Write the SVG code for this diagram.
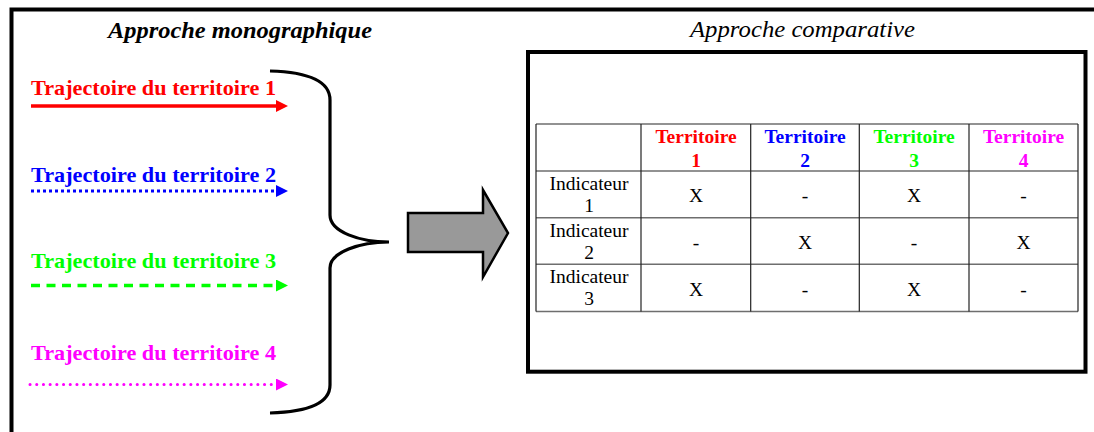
<svg xmlns="http://www.w3.org/2000/svg" width="1094" height="432" viewBox="0 0 1094 432">
<style>
text{font-family:"Liberation Serif","DejaVu Serif",serif}
.title{font-size:23px;font-weight:bold;font-style:italic;fill:#000}
.lab{font-size:22px;font-weight:bold}
.hd{font-size:19.5px;font-weight:bold;text-anchor:middle}
.cell{font-size:19.5px;fill:#000;text-anchor:middle}
.hl{stroke:#6e6e6e;stroke-width:1.4;fill:none}
.vl{stroke:#222;stroke-width:1.2;fill:none}
.traj{fill:none}
</style>
<defs>
<marker id="hr" markerUnits="userSpaceOnUse" markerWidth="12" markerHeight="12" refX="0" refY="6" orient="auto"><path d="M0,0 L12,6 L0,12 z" fill="#ff0000"/></marker>
<marker id="hb" markerUnits="userSpaceOnUse" markerWidth="12" markerHeight="12" refX="0" refY="6" orient="auto"><path d="M0,0 L12,6 L0,12 z" fill="#0000ff"/></marker>
<marker id="hg" markerUnits="userSpaceOnUse" markerWidth="12" markerHeight="12" refX="0" refY="6" orient="auto"><path d="M0,0 L12,6 L0,12 z" fill="#00ff00"/></marker>
<marker id="hm" markerUnits="userSpaceOnUse" markerWidth="12" markerHeight="12" refX="0" refY="6" orient="auto"><path d="M0,0 L12,6 L0,12 z" fill="#ff00ff"/></marker>
</defs>
<rect width="1094" height="432" fill="#fff"/>
<path id="frame" d="M11.5,432 V9.5 H1094" fill="none" stroke="#000" stroke-width="4"/>

<text class="title" x="108" y="38" textLength="264" lengthAdjust="spacingAndGlyphs">Approche monographique</text>
<text class="title" x="690" y="37" textLength="225" lengthAdjust="spacingAndGlyphs" style="font-weight:normal">Approche comparative</text>

<g id="traj1"><text class="lab" x="31" y="95" fill="#ff0000" textLength="245" lengthAdjust="spacingAndGlyphs">Trajectoire du territoire 1</text></g>
<g id="traj2"><text class="lab" x="31" y="182" fill="#0000ff" textLength="245" lengthAdjust="spacingAndGlyphs">Trajectoire du territoire 2</text></g>
<g id="traj3"><text class="lab" x="31" y="268" fill="#00ff00" textLength="245" lengthAdjust="spacingAndGlyphs">Trajectoire du territoire 3</text></g>
<g id="traj4"><text class="lab" x="31" y="360" fill="#ff00ff" textLength="245" lengthAdjust="spacingAndGlyphs">Trajectoire du territoire 4</text></g>

<g id="connectors">
<line class="traj" x1="31" y1="106" x2="276" y2="106" stroke="#ff0000" stroke-width="3.5" marker-end="url(#hr)"/>
<line class="traj" x1="31" y1="191" x2="276" y2="191" stroke="#0000ff" stroke-width="3" stroke-dasharray="3 3" marker-end="url(#hb)"/>
<line class="traj" x1="31" y1="285.5" x2="276" y2="285.5" stroke="#00ff00" stroke-width="3.5" stroke-dasharray="9 6.5" marker-end="url(#hg)"/>
<line class="traj" x1="30" y1="384.5" x2="276" y2="384.5" stroke="#ff00ff" stroke-width="3" stroke-linecap="round" stroke-dasharray="0.1 6.6" marker-end="url(#hm)"/>
</g>

<g id="brace">
<path d="M270,71 C305,72 330,80 330,100 L330,215 C330,232 360,242 389,242 C360,242 330,252 330,268 L330,385 C330,405 305,412 270,413" fill="none" stroke="#000" stroke-width="3.2"/>
</g>

<g id="bigarrow">
<polygon points="408,213 483,213 483,190 508,233 483,277 483,252 408,252" fill="#999999" stroke="#000" stroke-width="2.5" stroke-linejoin="miter"/>
</g>

<g id="comparative">
<rect x="528" y="52" width="557.5" height="319.7" fill="none" stroke="#000" stroke-width="4"/>
<g id="table">
<line class="hl" x1="536" y1="124" x2="1078" y2="124"/>
<line class="hl" x1="536" y1="171" x2="1078" y2="171"/>
<line class="hl" x1="536" y1="217.7" x2="1078" y2="217.7"/>
<line class="hl" x1="536" y1="264.3" x2="1078" y2="264.3"/>
<line class="hl" x1="536" y1="311.5" x2="1078" y2="311.5"/>
<line class="vl" x1="536" y1="124" x2="536" y2="311.5"/>
<line class="vl" x1="641" y1="124" x2="641" y2="311.5"/>
<line class="vl" x1="750.7" y1="124" x2="750.7" y2="311.5"/>
<line class="vl" x1="859.3" y1="124" x2="859.3" y2="311.5"/>
<line class="vl" x1="969" y1="124" x2="969" y2="311.5"/>
<line class="vl" x1="1078" y1="124" x2="1078" y2="311.5"/>

<text class="hd" x="696" y="143" fill="#ff0000">Territoire</text>
<text class="hd" x="696" y="167" fill="#ff0000">1</text>
<text class="hd" x="805" y="143" fill="#0000ff">Territoire</text>
<text class="hd" x="805" y="167" fill="#0000ff">2</text>
<text class="hd" x="914" y="143" fill="#00ff00">Territoire</text>
<text class="hd" x="914" y="167" fill="#00ff00">3</text>
<text class="hd" x="1023.5" y="143" fill="#ff00ff">Territoire</text>
<text class="hd" x="1023.5" y="167" fill="#ff00ff">4</text>

<text class="cell" x="589" y="190">Indicateur</text>
<text class="cell" x="589" y="212">1</text>
<text class="cell" x="589" y="236.5">Indicateur</text>
<text class="cell" x="589" y="258.5">2</text>
<text class="cell" x="589" y="283">Indicateur</text>
<text class="cell" x="589" y="305">3</text>

<text class="cell" x="696" y="202">X</text>
<text class="cell" x="805" y="202">-</text>
<text class="cell" x="914" y="202">X</text>
<text class="cell" x="1023.5" y="202">-</text>
<text class="cell" x="696" y="248.5">-</text>
<text class="cell" x="805" y="248.5">X</text>
<text class="cell" x="914" y="248.5">-</text>
<text class="cell" x="1023.5" y="248.5">X</text>
<text class="cell" x="696" y="295.5">X</text>
<text class="cell" x="805" y="295.5">-</text>
<text class="cell" x="914" y="295.5">X</text>
<text class="cell" x="1023.5" y="295.5">-</text>
</g>
</g>
</svg>
